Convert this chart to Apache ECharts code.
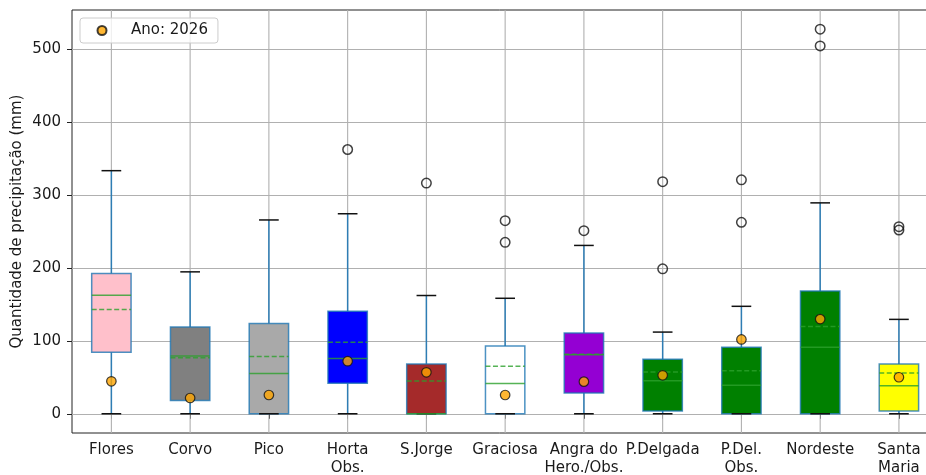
<!DOCTYPE html>
<html>
<head>
<meta charset="utf-8">
<script src="https://cdn.jsdelivr.net/npm/echarts@6/dist/echarts.min.js"></script>
<style>
  html, body { margin: 0; padding: 0; background: #fff; }
  #chart { width: 926px; height: 475px; }
</style>
</head>
<body>
<div id="chart"></div>
<script>
// Monthly precipitation by station: box statistics, outliers and the 2026 value
const categories = ['Flores', 'Corvo', 'Pico', 'Horta\nObs.', 'S.Jorge', 'Graciosa',
  'Angra do\nHero./Obs.', 'P.Delgada', 'P.Del.\nObs.', 'Nordeste', 'Santa\nMaria'];
const whiskerLow  = [0, 0, 0, 0, 0, 0, 0, 0, 0, 0, 0];
const q1          = [84.4, 18.3, 0, 41.7, 0, 0, 28.4, 3.7, 0, 0, 3.7];
const median      = [162.3, 79.3, 55, 75.7, 0, 41.3, 80.7, 45.4, 39, 91.2, 38.5];
const q3          = [192, 118.7, 123.8, 140.3, 68.3, 93, 110.5, 74.7, 91.2, 168.3, 68.3];
const whiskerHigh = [333, 194.4, 265.5, 274, 162, 158.2, 230.6, 111.9, 147.2, 288.9, 129.3];
const mean        = [143, 76.6, 78.4, 98, 45, 65, 81.5, 57.3, 59.1, 119.7, 56];
const year2026    = [44.5, 21.6, 25.7, 72, 56.8, 25.7, 44, 52.7, 101.8, 129.7, 50];
const outliers    = [[], [], [], [362], [316], [234.8, 264.5], [250.8], [198.5, 318],
  [262.3, 320.5], [503.9, 526.8], [251.7, 256.3]];
const boxColors   = ['#FFC0CB', '#808080', '#A9A9A9', '#0000FF', '#A52A2A', '#FFFFFF',
  '#9400D3', '#008000', '#008000', '#008000', '#FFFF00'];
const yTicks      = [0, 100, 200, 300, 400, 500];
const yMin = -26.34, yMax = 553.1;
const legendLabel = 'Ano: 2026';

const boxData = categories.map((c, i) =>
  [i, whiskerLow[i], q1[i], median[i], q3[i], whiskerHigh[i], mean[i]]);
const outlierData = [];
outliers.forEach((list, i) => list.forEach(v => outlierData.push([i, v])));
const yearData = year2026.map((v, i) => [i, v]);

const FONT = 'DejaVu Sans';
const INK = '#1a1a1a';
const GRID = '#b0b0b0';

const chart = echarts.init(document.getElementById('chart'), null, { renderer: 'canvas' });

chart.setOption({
  animation: false,
  backgroundColor: '#ffffff',
  grid: {
    // the plot area runs a little past the right edge of the page
    left: 72, width: 866.3, top: 10, bottom: 42,
    outerBoundsMode: 'none',
    containLabel: false,
    show: true, borderColor: '#222', borderWidth: 1, backgroundColor: 'transparent'
  },
  legend: {
    data: [legendLabel],
    left: 80, top: 18,
    orient: 'horizontal',
    padding: [5, 10, 5, 16.5],
    itemWidth: 14, itemHeight: 9,
    backgroundColor: 'rgba(255,255,255,0.8)',
    borderColor: '#cccccc', borderWidth: 1, borderRadius: 3,
    textStyle: { fontFamily: FONT, fontSize: 15, color: INK, padding: [0, 0, 0, 17] }
  },
  xAxis: {
    type: 'category',
    data: categories,
    boundaryGap: true,
    axisLine: { show: false },
    axisTick: { show: true, alignWithLabel: true, length: 5, lineStyle: { color: '#222', width: 1 } },
    axisLabel: { fontFamily: FONT, fontSize: 15, color: INK, margin: 8, lineHeight: 18, interval: 0 },
    splitLine: { show: false }
  },
  yAxis: {
    type: 'value',
    min: yMin, max: yMax,
    name: 'Quantidade de precipitação (mm)',
    nameLocation: 'middle',
    nameGap: 47,
    nameMoveOverlap: false,
    nameTextStyle: { fontFamily: FONT, fontSize: 15, color: INK },
    axisLine: { show: false },
    axisTick: { show: true, length: 5, customValues: yTicks, lineStyle: { color: '#222', width: 1 } },
    axisLabel: { fontFamily: FONT, fontSize: 15, color: INK, margin: 11, customValues: yTicks },
    splitLine: { show: true, lineStyle: { color: GRID, width: 1.1 } }
  },
  series: [
    {
      type: 'custom',
      name: 'boxes',
      z: 3,
      data: boxData,
      encode: { x: 0, y: [1, 2, 3, 4, 5, 6] },
      renderItem: function (params, api) {
        const i = api.value(0);
        const x = api.coord([i, 0])[0];
        const band = api.size([1, 0])[0];
        const hw = band * 0.25, cw = band * 0.125;
        const py = k => api.coord([i, api.value(k)])[1];
        const lo = py(1), b1 = py(2), md = py(3), b3 = py(4), hi = py(5), mn = py(6);
        const gTop = api.coord([i, yMax])[1], gBot = api.coord([i, yMin])[1];
        const whisk = { stroke: 'rgba(31,119,180,0.9)', lineWidth: 1.5 };
        const cap = { stroke: '#111', lineWidth: 1.5 };
        const green = 'rgba(44,160,44,0.8)';
        return {
          type: 'group',
          children: [
            // vertical grid line through the station
            { type: 'line', shape: { x1: x, y1: gTop, x2: x, y2: gBot },
              style: { stroke: GRID, lineWidth: 1.1 } },
            { type: 'line', shape: { x1: x, y1: lo, x2: x, y2: b1 }, style: whisk },
            { type: 'line', shape: { x1: x, y1: b3, x2: x, y2: hi }, style: whisk },
            { type: 'rect', shape: { x: x - hw, y: b3, width: 2 * hw, height: b1 - b3 },
              style: { fill: boxColors[i], stroke: 'rgba(31,119,180,0.8)', lineWidth: 1.5 } },
            { type: 'line', shape: { x1: x - cw, y1: lo, x2: x + cw, y2: lo }, style: cap },
            { type: 'line', shape: { x1: x - cw, y1: hi, x2: x + cw, y2: hi }, style: cap },
            { type: 'line', shape: { x1: x - hw, y1: md, x2: x + hw, y2: md },
              style: { stroke: green, lineWidth: 1.5 } },
            { type: 'line', shape: { x1: x - hw, y1: mn, x2: x + hw, y2: mn },
              style: { stroke: green, lineWidth: 1.5, lineDash: [5, 2.5] } }
          ]
        };
      }
    },
    {
      type: 'scatter',
      name: 'outliers',
      z: 4,
      data: outlierData,
      symbol: 'circle',
      symbolSize: 9.5,
      itemStyle: { color: 'rgba(255,255,255,0)', borderColor: '#111', borderWidth: 1.5 }
    },
    {
      type: 'scatter',
      name: legendLabel,
      z: 5,
      data: yearData,
      symbol: 'circle',
      symbolSize: 9.5,
      itemStyle: { color: '#FFA500', borderColor: '#111', borderWidth: 1.2 }
    }
  ]
});
</script>
</body>
</html>
